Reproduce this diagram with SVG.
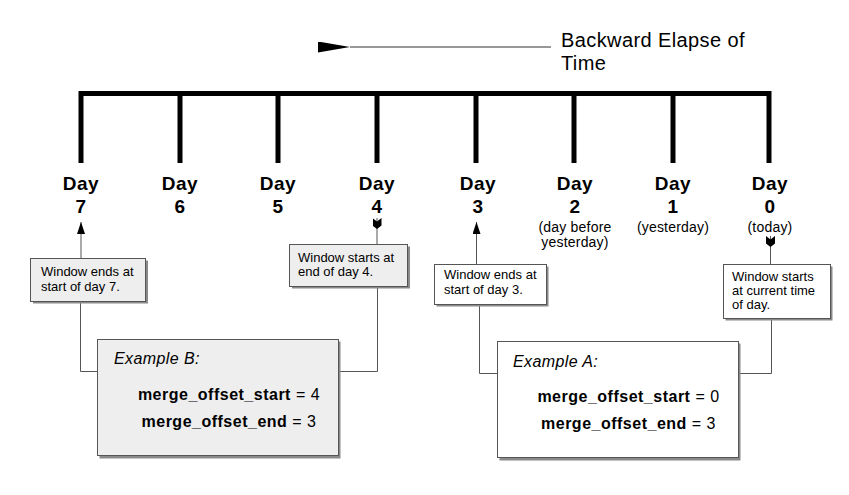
<svg xmlns="http://www.w3.org/2000/svg" width="849" height="495" viewBox="0 0 849 495">
<defs>
<marker id="tip" viewBox="0 0 12 8" refX="12" refY="4" markerWidth="12" markerHeight="8" markerUnits="userSpaceOnUse" orient="auto"><path d="M0,0 L12,4 L0,8 z" fill="#000"/></marker>
<marker id="bigtip" viewBox="0 0 32 11" refX="0" refY="5.5" markerWidth="32" markerHeight="11" markerUnits="userSpaceOnUse" orient="auto"><path d="M32,0 L0,5.5 L32,11 z" fill="#000"/></marker>
<marker id="tail" viewBox="0 -4.5 11 9" refX="0" refY="0" markerWidth="11" markerHeight="9" markerUnits="userSpaceOnUse" orient="auto"><path d="M0,-4.5 L3.5,0 L0,4.5 L7.5,4.5 L11,0 L7.5,-4.5 z" fill="#000"/></marker>
</defs>
<style>
.day{font-family:"Liberation Sans",Arial,sans-serif;font-weight:bold;font-size:19px;letter-spacing:0.5px;text-anchor:middle;fill:#000}
.sub{font-family:"Liberation Sans",Arial,sans-serif;font-size:14px;letter-spacing:0.2px;text-anchor:middle;fill:#000}
.note{font-family:"Liberation Sans",Arial,sans-serif;font-size:13px;fill:#000}
.ex{font-family:"Liberation Sans",Arial,sans-serif;font-size:16px;font-style:italic;letter-spacing:0.4px;fill:#000}
.mo{font-family:"Liberation Sans",Arial,sans-serif;font-size:16px;letter-spacing:0.5px;text-anchor:middle;fill:#000}
.mo tspan.b{font-weight:bold}
.title{font-family:"Liberation Sans",Arial,sans-serif;font-size:20px;letter-spacing:0.4px;fill:#000}
.box{stroke:#555;stroke-width:1}
.shadow{fill:#8a8a8a}
.tick{stroke:#000;stroke-width:5;fill:none}
.conn{stroke:#555;stroke-width:1;fill:none}
</style>
<rect width="849" height="495" fill="#fff"/>

<g id="direction">
<line x1="551" y1="47" x2="350" y2="47" stroke="#333" stroke-width="1.2" marker-end="url(#bigtip)"/>
<text class="title" x="561" y="47">Backward Elapse of</text>
<text class="title" x="561" y="70">Time</text>
</g>

<g id="timeline">
<path class="tick" d="M81,163 V93.5 H769 V163 M180,93.5 V163 M278,93.5 V163 M377,93.5 V163 M476,93.5 V163 M574,93.5 V163 M673,93.5 V163"/>
</g>

<g id="day7"><text class="day" x="81" y="190">Day</text><text class="day" x="81" y="213">7</text></g>
<g id="day6"><text class="day" x="180" y="190">Day</text><text class="day" x="180" y="213">6</text></g>
<g id="day5"><text class="day" x="278" y="190">Day</text><text class="day" x="278" y="213">5</text></g>
<g id="day4"><text class="day" x="377" y="190">Day</text><text class="day" x="377" y="213">4</text></g>
<g id="day3"><text class="day" x="478" y="190">Day</text><text class="day" x="478" y="213">3</text></g>
<g id="day2"><text class="day" x="575" y="190">Day</text><text class="day" x="575" y="213">2</text>
<text class="sub" x="575" y="232">(day before</text><text class="sub" x="575" y="247">yesterday)</text></g>
<g id="day1"><text class="day" x="673" y="190">Day</text><text class="day" x="673" y="213">1</text>
<text class="sub" x="673" y="232">(yesterday)</text></g>
<g id="day0"><text class="day" x="770" y="190">Day</text><text class="day" x="770" y="213">0</text>
<text class="sub" x="770" y="232">(today)</text></g>

<g id="connectors">
<line class="conn" x1="81" y1="258" x2="81" y2="222" marker-end="url(#tip)"/>
<line class="conn" x1="377" y1="218" x2="377" y2="244" marker-start="url(#tail)"/>
<line class="conn" x1="476.5" y1="264" x2="476.5" y2="222" marker-end="url(#tip)"/>
<line class="conn" x1="770.5" y1="236" x2="770.5" y2="264" marker-start="url(#tail)"/>
<path class="conn" d="M80.5,302 V371.5 H97"/>
<path class="conn" d="M377.5,287 V371.5 H338"/>
<path class="conn" d="M479.5,304 V373.5 H497"/>
<path class="conn" d="M771.5,318 V373.5 H738"/>
</g>

<g id="note-day7">
<rect class="shadow" x="33" y="260.5" width="115" height="43"/>
<rect class="box" x="30.5" y="258.5" width="115" height="43" fill="#eeeeee"/>
<text class="note" x="41" y="276">Window ends at</text>
<text class="note" x="41" y="291">start of day 7.</text>
</g>

<g id="note-day4">
<rect class="shadow" x="292" y="246.5" width="118" height="42"/>
<rect class="box" x="289.5" y="244.5" width="118" height="42" fill="#eeeeee"/>
<text class="note" x="298" y="262">Window starts at</text>
<text class="note" x="298" y="276">end of day 4.</text>
</g>

<g id="note-day3">
<rect class="shadow" x="436.5" y="266.5" width="112" height="40"/>
<rect class="box" x="434.5" y="264.5" width="112" height="40" fill="#fff"/>
<text class="note" x="444" y="278.5">Window ends at</text>
<text class="note" x="444" y="293.5">start of day 3.</text>
</g>

<g id="note-day0">
<rect class="shadow" x="725.5" y="266.5" width="107" height="54"/>
<rect class="box" x="723.5" y="264.5" width="107" height="54" fill="#fff"/>
<text class="note" x="732" y="281">Window starts</text>
<text class="note" x="732" y="295">at current time</text>
<text class="note" x="732" y="309">of day.</text>
</g>

<g id="example-b">
<rect class="shadow" x="99.5" y="341.5" width="241" height="117"/>
<rect class="box" x="97.5" y="339.5" width="241" height="116" fill="#eeeeee"/>
<text class="ex" x="114" y="364">Example B:</text>
<text class="mo" x="229" y="400"><tspan class="b">merge_offset_start</tspan> = 4</text>
<text class="mo" x="229" y="427"><tspan class="b">merge_offset_end</tspan> = 3</text>
</g>

<g id="example-a">
<rect class="shadow" x="499.5" y="343.5" width="241" height="117"/>
<rect class="box" x="497.5" y="341.5" width="241" height="116" fill="#fff"/>
<text class="ex" x="513" y="367">Example A:</text>
<text class="mo" x="628.5" y="402"><tspan class="b">merge_offset_start</tspan> = 0</text>
<text class="mo" x="628.5" y="429"><tspan class="b">merge_offset_end</tspan> = 3</text>
</g>
</svg>
